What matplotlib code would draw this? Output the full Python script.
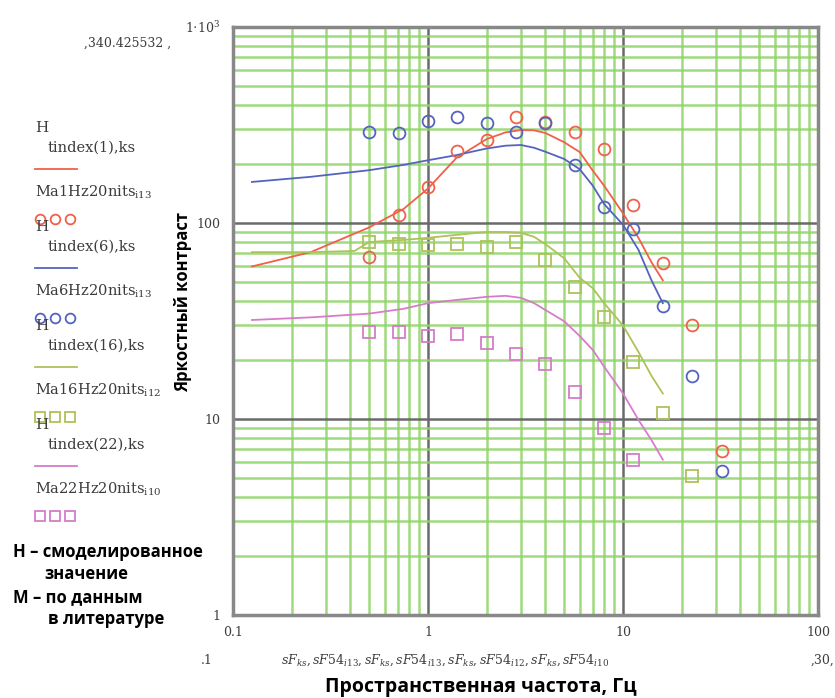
import numpy as np
import matplotlib
matplotlib.use('Agg')
import matplotlib.pyplot as plt

plt.rcParams['mathtext.fontset'] = 'dejavuserif'

#-------------------------------------------------------------------------------
# literature data (M), spatial frequency in Hz
freq_m = [0.5, 0.707, 1.0, 1.41, 2.0, 2.83, 4.0, 5.66, 8.0, 11.3, 16.0, 22.6, 32.0]
m1 = [67, 110, 153, 233, 265, 347, 328, 291, 239, 123, 62.5, 30.2, 6.9]
m6 = [291, 288, 331, 347, 324, 291, 324, 198, 121, 93, 37.7, 16.6, 5.4]
m16 = [80, 78, 77, 78, 75, 80, 65, 47, 33, 19.5, 10.7, 5.1]
m22 = [27.8, 27.8, 26.5, 27, 24.4, 21.4, 19.1, 13.7, 9.0, 6.2]

# modelled curves (H)
freq_h = [0.125, 0.25, 0.5, 0.75, 1, 1.4, 2, 2.5, 3, 3.5, 4, 5, 6, 7, 8, 10, 12, 14, 16]
h1 = [60, 71, 95, 118, 150, 215, 268, 290, 298, 297, 288, 258, 230, 185, 155, 112, 84, 63, 51]
h6 = [162, 172, 186, 198, 209, 222, 240, 248, 250, 242, 231, 212, 188, 155, 125, 98, 73, 51, 39]
freq_h16 = [0.125, 0.25, 0.42, 0.5, 0.75, 1, 1.4, 2, 2.5, 3, 3.5, 4, 5, 6, 7, 8, 10, 12, 14, 16]
h16 = [71, 71, 72, 80, 82, 84, 87, 90, 90, 89, 85, 78, 66, 52.5, 46.5, 39, 30, 22, 16.6, 13.5]
h22 = [32, 33, 34.5, 36.5, 39, 40.5, 42, 42.5, 41.5, 39, 36, 31.5, 26.5, 22.5, 18.5, 13.5, 9.9, 7.8, 6.2]

series = [
    ('1', 'i13', freq_h, h1, m1, '#f0604a', 'o'),
    ('6', 'i13', freq_h, h6, m6, '#5563c0', 'o'),
    ('16', 'i12', freq_h16, h16, m16, '#aec25a', 's'),
    ('22', 'i10', freq_h, h22, m22, '#d67ccb', 's'),
]

xticks = [0.1, 1, 10, 100]
xtick_labels = ['0.1', '1', '10', '100']
yticks = [1, 10, 100, 1000]
ytick_labels = ['1', '10', '100', r'$1{\cdot}10^3$']

txt_col = '#3c3c3c'
serif = 'DejaVu Serif'

#-------------------------------------------------------------------------------
fig = plt.figure(figsize=(8.35, 6.98), dpi=100)
ax = fig.add_axes([233/835, 1-615/698, 585/835, 588/698])

for num, idx, fx, h, m, col, mk in series:
    ax.plot(fx, h, color=col, lw=1.3, zorder=3)
    ax.plot(freq_m[:len(m)], m, linestyle='none', marker=mk, ms=8.5, mfc='none',
            mec=col, mew=1.3, zorder=4)

ax.set_xscale('log')
ax.set_yscale('log')
ax.set_xlim(0.1, 100)
ax.set_ylim(1, 1000)
ax.set_xticks(xticks)
ax.set_xticklabels(xtick_labels)
ax.set_yticks(yticks)
ax.set_yticklabels(ytick_labels)
ax.xaxis.set_minor_locator(matplotlib.ticker.LogLocator(base=10, subs=np.arange(2, 10)))
ax.yaxis.set_minor_locator(matplotlib.ticker.LogLocator(base=10, subs=np.arange(2, 10)))
ax.xaxis.set_minor_formatter(matplotlib.ticker.NullFormatter())
ax.yaxis.set_minor_formatter(matplotlib.ticker.NullFormatter())
ax.tick_params(which='both', length=0)
ax.tick_params(axis='y', pad=9, labelsize=9, labelcolor=txt_col)
ax.tick_params(axis='x', pad=8, labelsize=9, labelcolor=txt_col)
for lab in ax.get_xticklabels() + ax.get_yticklabels():
    lab.set_family(serif)
ax.grid(which='minor', color='#8fd468', lw=1.8, alpha=0.85)
ax.grid(which='major', color='#6a6a6a', lw=1.8)
ax.set_axisbelow(True)
for sp in ax.spines.values():
    sp.set_color('#888888')
    sp.set_linewidth(2.5)

ax.set_ylabel('Яркостный контраст', family='Open Sans', fontweight='bold', fontsize=12)
ax.yaxis.set_label_coords((192 - 233) / 585, (615 - 302) / 588)
ax.set_xlabel('Пространственная частота, Гц', family='Open Sans', fontweight='bold',
              fontsize=14)
ax.xaxis.set_label_coords((481 - 233) / 585, (615 - 677) / 588)

# Mathcad axis expressions
fig.text(207/835, 1-660/698, '.1', ha='center', va='center', family=serif,
         fontsize=9, color=txt_col)
fig.text(445/835, 1-660/698,
         r'$sF_{ks}, sF54_{i13}, sF_{ks}, sF54_{i13}, sF_{ks}, sF54_{i12}, sF_{ks}, sF54_{i10}$',
         ha='center', va='center', fontsize=9, color=txt_col)
fig.text(822/835, 1-660/698, ',30,', ha='center', va='center', family=serif,
         fontsize=9, color=txt_col)
fig.text(128/835, 1-43/698, ',340.425532 ,', ha='center', va='center', family=serif,
         fontsize=9, color=txt_col)

#-------------------------------------------------------------------------------
# legend in Mathcad style (label above its sample)
lax = fig.add_axes([0, 0, 1, 1], zorder=-1)
lax.set_xlim(0, 835)
lax.set_ylim(698, 0)
lax.axis('off')
top = 128
step = 99
for k, (num, idx, fx, h, m, col, mk) in enumerate(series):
    y0 = top + k * step
    lax.text(35, y0, 'H', ha='left', va='center', family=serif, fontsize=11, color=txt_col)
    lax.text(48, y0 + 20, 'tindex(%s),ks' % num, ha='left', va='center', family=serif,
             fontsize=10.5, color=txt_col)
    lax.plot([35, 77], [y0 + 41, y0 + 41], color=col, lw=1.3)
    lax.text(35, y0 + 64, r'$\mathrm{Ma%sHz20nits}_{\mathrm{%s}}$' % (num, idx), ha='left',
             va='center', fontsize=10.5, color=txt_col)
    lax.plot([40, 55, 70], [y0 + 91] * 3, linestyle='none', marker=mk, ms=7, mfc='none',
             mec=col, mew=1.3)

bold = dict(ha='left', va='center', family='Open Sans', fontweight='bold', fontsize=12)
lax.text(13, 552, 'H – смоделированное', **bold)
lax.text(44, 574, 'значение', **bold)
lax.text(13, 597, 'M – по данным', **bold)
lax.text(48, 619, 'в литературе', **bold)

plt.savefig('out.png', dpi=100)
